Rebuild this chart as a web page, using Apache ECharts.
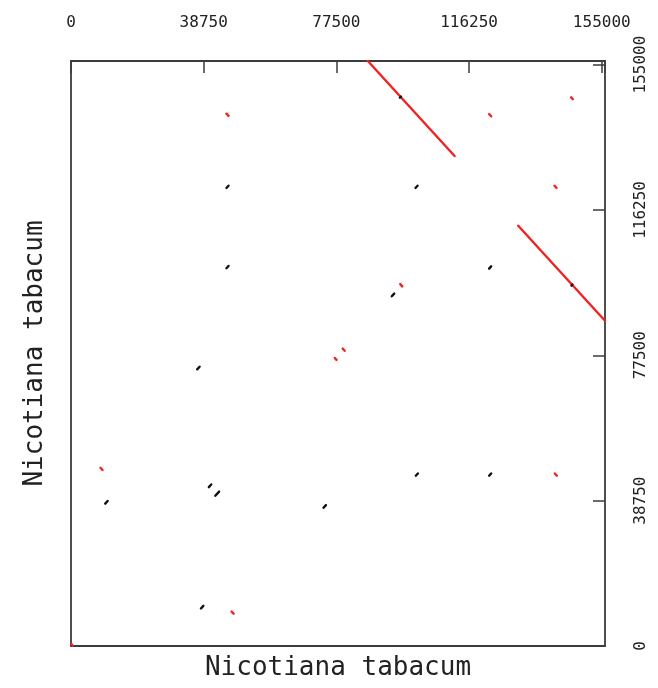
<!DOCTYPE html>
<html>
<head>
<meta charset="UTF-8">
<title>Nicotiana tabacum dot plot</title>
<script src="https://cdn.jsdelivr.net/npm/echarts@6/dist/echarts.min.js"></script>
<style>
  html, body { margin: 0; padding: 0; background: #fff; }
  #chart { width: 658px; height: 688px; }
</style>
</head>
<body>
<div id="chart"></div>
<script>
// genome length (both axes) and tick labels
const seqLength = 155943;
const tickValues = [0, 38750, 77500, 116250, 155000];

// forward hits (black): centre x, centre y, length in bp
const fwdX   = [45700, 122400, 100900, 122400, 45700, 101000, 94030, 37200, 74100, 40600, 42700, 10350, 38300, 96200, 146300];
const fwdY   = [122400, 45700, 122400, 100900, 101000, 45700, 93580, 74100, 37200, 42700, 40600, 38300, 10350, 146300, 96200];
const fwdLen = [600, 600, 600, 600, 600, 600, 700, 700, 700, 700, 1100, 700, 700, 300, 300];

// reverse hits (red): centre x, centre y, length in bp
const revX   = [99355, 143274, 45700, 141600, 122400, 141500, 146300, 96450, 79630, 77290, 8900, 47200, 300];
const revY   = [143274, 99355, 141600, 45700, 141500, 122400, 146000, 96170, 79000, 76520, 47200, 8900, 300];
const revLen = [25339, 25339, 600, 600, 600, 600, 500, 600, 600, 500, 600, 600, 400];

function segments(xs, ys, lens, dir) {
  return xs.map((x, i) => {
    const h = lens[i] / 2;
    return { coords: [[x - h, ys[i] - dir * h], [x + h, ys[i] + dir * h]] };
  });
}

const FONT = 'DejaVu Sans Mono';
const AXIS_COLOR = '#3c3c3c';
const frameLine = { show: true, onZero: false, lineStyle: { color: AXIS_COLOR, width: 1.8 } };

const chart = echarts.init(document.getElementById('chart'));
chart.setOption({
  animation: false,
  backgroundColor: '#fff',
  grid: { left: 71, top: 61, right: 53, bottom: 42, containLabel: false },
  xAxis: [{
    type: 'value', position: 'top', min: 0, max: seqLength, interval: 38750,
    axisLine: frameLine,
    axisTick: { show: true, inside: true, length: 12, lineStyle: { color: AXIS_COLOR, width: 1.5 } },
    axisLabel: {
      margin: 30, fontFamily: FONT, fontSize: 16, color: '#222',
      formatter: v => tickValues.includes(v) ? String(v) : ''
    },
    splitLine: { show: false }
  }, {
    type: 'value', position: 'bottom', min: 0, max: seqLength,
    axisLine: frameLine,
    axisTick: { show: false }, axisLabel: { show: false }, splitLine: { show: false },
    name: 'Nicotiana tabacum', nameLocation: 'middle', nameGap: 9,
    nameTextStyle: { fontFamily: FONT, fontSize: 26, color: '#222' }
  }],
  yAxis: [{
    type: 'value', position: 'right', min: 0, max: seqLength, interval: 38750,
    axisLine: frameLine,
    axisTick: { show: true, inside: true, length: 12, lineStyle: { color: AXIS_COLOR, width: 1.5 } },
    axisLabel: {
      margin: 28, rotate: 90, fontFamily: FONT, fontSize: 16, color: '#222',
      formatter: v => tickValues.includes(v) ? String(v) : ''
    },
    splitLine: { show: false }
  }, {
    type: 'value', position: 'left', min: 0, max: seqLength,
    axisLine: frameLine,
    axisTick: { show: false }, axisLabel: { show: false }, splitLine: { show: false },
    name: 'Nicotiana tabacum', nameLocation: 'middle', nameGap: 23, nameRotate: 90,
    nameTextStyle: { fontFamily: FONT, fontSize: 26, color: '#222' }
  }],
  series: [{
    type: 'lines', coordinateSystem: 'cartesian2d', xAxisIndex: 0, yAxisIndex: 0,
    lineStyle: { color: '#111', width: 2.4, opacity: 1, cap: 'round' },
    data: segments(fwdX, fwdY, fwdLen, 1), silent: true
  }, {
    type: 'lines', coordinateSystem: 'cartesian2d', xAxisIndex: 0, yAxisIndex: 0,
    lineStyle: { color: '#f22222', width: 2.4, opacity: 1, cap: 'round' },
    data: segments(revX, revY, revLen, -1), silent: true, z: 1
  }]
});
</script>
</body>
</html>
